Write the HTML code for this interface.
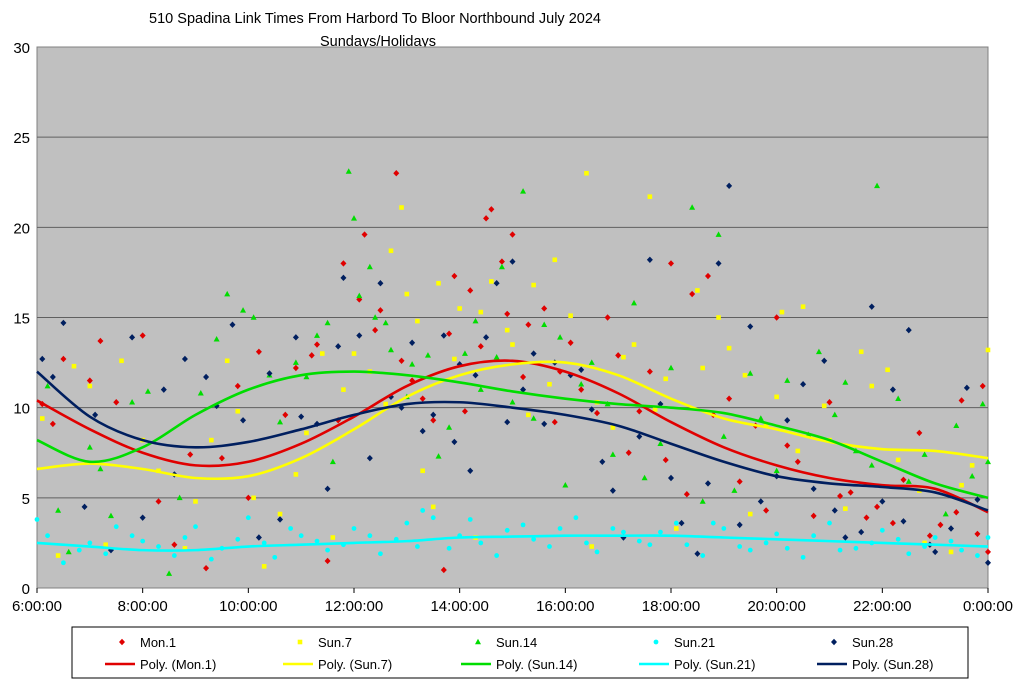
<!DOCTYPE html>
<html><head><meta charset="utf-8"><style>
body{margin:0;background:#fff;width:1024px;height:688px;overflow:hidden;font-family:"Liberation Sans",sans-serif}
</style></head><body>
<svg id="chart" width="1024" height="688" font-family="Liberation Sans, sans-serif">
<text x="375" y="23" text-anchor="middle" font-size="14.5">510 Spadina Link Times From Harbord To Bloor Northbound July 2024</text>
<text x="378" y="46" text-anchor="middle" font-size="14.5">Sundays/Holidays</text>
<rect x="37" y="47" width="951" height="541" fill="#c0c0c0" stroke="#808080"/>
<g id="grid"></g><g id="ticks"></g><g id="points"></g><g id="trends"></g>
<g id="legend">
<rect x="72" y="627" width="896" height="51" fill="#fff" stroke="#000"/>
</g>
</svg>
<script>
const yTicks=[0,5,10,15,20,25,30];
const xTickHours=[6,8,10,12,14,16,18,20,22,24];
const xTickLabels=["6:00:00","8:00:00","10:00:00","12:00:00","14:00:00","16:00:00","18:00:00","20:00:00","22:00:00","0:00:00"];
const seriesNames=["Mon.1","Sun.7","Sun.14","Sun.21","Sun.28"];
const seriesColors=["#e00000","#ffff00","#00dd00","#00ffff","#001f5f"];
const trendHours=[6,7,8,9,10,11,12,13,14,15,16,17,18,19,20,21,22,23,24];
const trendMon1=[10.4,8.8,7.5,6.8,7.0,8.0,9.5,11.2,12.3,12.6,12.0,10.8,9.2,7.8,6.8,6.1,5.7,5.5,4.2];
const trendSun7=[6.6,6.9,6.6,6.1,6.2,7.2,8.8,10.6,11.8,12.4,12.5,11.8,10.5,9.4,8.8,8.1,7.7,7.6,7.2];
const trendSun14=[8.2,7.0,7.8,9.6,11.0,11.8,12.0,11.8,11.4,10.9,10.5,10.2,10.0,9.7,9.0,8.2,7.0,5.8,5.0];
const trendSun21=[2.5,2.3,2.1,2.1,2.3,2.4,2.5,2.6,2.8,2.85,2.9,2.9,2.9,2.8,2.7,2.6,2.5,2.4,2.3];
const trendSun28=[12.0,9.5,8.2,7.8,8.1,8.8,9.6,10.2,10.3,10.0,9.6,9.0,8.0,7.0,6.2,5.8,5.6,5.3,4.3];
const ptsMon1=[[6.1,10.2],[6.5,12.7],[7.2,13.7],[7.5,10.3],[8,14],[8.3,4.8],[8.9,7.4],[9.2,1.1],[9.8,11.2],[10.2,13.1],[10.7,9.6],[11.2,12.9],[11.5,1.5],[11.8,18],[12.1,16],[12.2,19.6],[12.5,15.4],[12.8,23],[13.1,11.5],[13.5,9.3],[13.7,1],[13.9,17.3],[14.2,16.5],[14.5,20.5],[14.6,21],[14.8,18.1],[15.0,19.6],[15.3,14.6],[15.6,15.5],[15.9,12],[16.3,11],[16.8,15],[17.2,7.5],[17.6,12],[18.0,18],[18.4,16.3],[18.7,17.3],[19.1,10.5],[19.6,9],[20.0,15],[20.4,7],[21.0,10.3],[21.4,5.3],[21.9,4.5],[22.4,6],[22.7,8.6],[23.1,3.5],[23.5,10.4],[23.9,11.2],[24,2],
[6.3,9.1],[7.0,11.5],[8.6,2.4],[9.5,7.2],[10.0,5],[10.9,12.2],[11.3,13.5],[11.7,9.3],[12.4,14.3],[12.9,12.6],[13.3,10.5],[13.8,14.1],[14.1,9.8],[14.4,13.4],[14.9,15.2],[15.2,11.7],[15.8,9.2],[16.1,13.6],[16.6,9.7],[17.0,12.9],[17.4,9.8],[17.9,7.1],[18.3,5.2],[18.8,9.6],[19.3,5.9],[19.8,4.3],[20.2,7.9],[20.7,4],[21.2,5.1],[21.7,3.9],[22.2,3.6],[22.9,2.9],[23.4,4.2],[23.8,3]];
const ptsSun7=[[6.1,9.4],[6.7,12.3],[7.0,11.2],[7.6,12.6],[8.3,6.5],[8.8,2.2],[9.3,8.2],[9.8,9.8],[10.3,1.2],[10.9,6.3],[11.4,13],[11.8,11],[12.3,12],[12.7,18.7],[12.9,21.1],[13.0,16.3],[13.3,6.5],[13.6,16.9],[14.0,15.5],[14.3,2.8],[14.6,17],[15.0,13.5],[15.4,16.8],[15.8,18.2],[16.4,23],[16.6,10.3],[17.1,12.8],[17.6,21.7],[17.9,11.6],[18.5,16.5],[18.9,15],[19.4,11.8],[19.8,9],[20.1,15.3],[20.5,15.6],[21.0,8.2],[21.6,13.1],[22.1,12.1],[22.7,5.4],[23.3,2],[23.7,6.8],[24,13.2],
[6.4,1.8],[7.3,2.4],[8.0,8.2],[9.0,4.8],[9.6,12.6],[10.1,5],[10.6,4.1],[11.1,8.6],[11.6,2.8],[12.0,13],[12.6,10.2],[13.2,14.8],[13.5,4.5],[13.9,12.7],[14.4,15.3],[14.9,14.3],[15.3,9.6],[15.7,11.3],[16.1,15.1],[16.5,2.3],[16.9,8.9],[17.3,13.5],[17.7,9.9],[18.1,3.3],[18.6,12.2],[19.1,13.3],[19.5,4.1],[20.0,10.6],[20.4,7.6],[20.9,10.1],[21.3,4.4],[21.8,11.2],[22.3,7.1],[22.8,2.5],[23.5,5.7]];
const ptsSun14=[[6.2,11.2],[6.6,2],[7.0,7.8],[7.4,4],[7.8,10.3],[8.5,0.8],[8.7,5],[9.1,10.8],[9.6,16.3],[9.9,15.4],[10.4,11.8],[10.9,12.5],[11.3,14],[11.6,7],[11.9,23.1],[12.1,16.2],[12.4,15],[12.7,13.2],[13.1,12.4],[13.6,7.3],[14.1,13],[14.4,11],[14.8,17.8],[15.2,22],[15.6,14.6],[16.0,5.7],[16.5,12.5],[16.9,7.4],[17.3,15.8],[17.8,8],[18.4,21.1],[18.9,19.6],[19.2,5.4],[19.7,9.4],[20.2,11.5],[20.6,8.5],[21.1,9.6],[21.5,7.6],[21.9,22.3],[22.3,10.5],[22.8,7.4],[23.4,9],[23.9,10.2],[24,7],
[6.4,4.3],[7.2,6.6],[8.1,10.9],[9.4,13.8],[10.1,15],[10.6,9.2],[11.1,11.7],[11.5,14.7],[12.0,20.5],[12.3,17.8],[12.6,14.7],[13.0,10.6],[13.4,12.9],[13.8,8.9],[14.3,14.8],[14.7,12.8],[15.0,10.3],[15.4,9.4],[15.9,13.9],[16.3,11.3],[16.8,10.2],[17.5,6.1],[18.0,12.2],[18.6,4.8],[19.0,8.4],[19.5,11.9],[20.0,6.5],[20.8,13.1],[21.3,11.4],[21.8,6.8],[22.5,5.9],[23.2,4.1],[23.7,6.2]];
const ptsSun21=[[6.0,3.8],[6.5,1.4],[7.0,2.5],[7.5,3.4],[8.0,2.6],[8.6,1.8],[9.0,3.4],[9.5,2.2],[10.0,3.9],[10.5,1.7],[11.0,2.9],[11.5,2.1],[12.0,3.3],[12.5,1.9],[13.0,3.6],[13.3,4.3],[13.8,2.2],[14.2,3.8],[14.7,1.8],[15.2,3.5],[15.7,2.3],[16.2,3.9],[16.6,2],[17.1,3.1],[17.6,2.4],[18.1,3.6],[18.6,1.8],[19.0,3.3],[19.5,2.1],[20.0,3],[20.5,1.7],[21.0,3.6],[21.5,2.2],[22.0,3.2],[22.5,1.9],[23.0,2.8],[23.5,2.1],[24,2.8],
[6.2,2.9],[6.8,2.1],[7.3,1.9],[7.8,2.9],[8.3,2.3],[8.8,2.8],[9.3,1.6],[9.8,2.7],[10.3,2.5],[10.8,3.3],[11.3,2.6],[11.8,2.4],[12.3,2.9],[12.8,2.7],[13.2,2.3],[13.5,3.9],[14.0,2.9],[14.4,2.5],[14.9,3.2],[15.4,2.7],[15.9,3.3],[16.4,2.5],[16.9,3.3],[17.4,2.6],[17.8,3.1],[18.3,2.4],[18.8,3.6],[19.3,2.3],[19.8,2.5],[20.2,2.2],[20.7,2.9],[21.2,2.1],[21.8,2.5],[22.3,2.7],[22.8,2.3],[23.3,2.6],[23.8,1.8]];
const ptsSun28=[[6.1,12.7],[6.5,14.7],[6.9,4.5],[7.4,2.1],[7.8,13.9],[8.4,11],[8.8,12.7],[9.2,11.7],[9.7,14.6],[10.2,2.8],[10.6,3.8],[11.0,9.5],[11.5,5.5],[11.8,17.2],[12.1,14],[12.5,16.9],[12.9,10],[13.3,8.7],[13.7,14],[14.0,12.4],[14.3,11.8],[14.7,16.9],[15.0,18.1],[15.4,13],[15.8,12.5],[16.3,12.1],[16.7,7],[17.1,2.8],[17.6,18.2],[18.0,6.1],[18.5,1.9],[18.9,18],[19.1,22.3],[19.5,14.5],[20.0,6.2],[20.5,11.3],[20.9,12.6],[21.3,2.8],[21.8,15.6],[22.2,11],[22.5,14.3],[23.0,2],[23.6,11.1],[24,1.4],
[6.3,11.7],[7.1,9.6],[8.0,3.9],[8.6,6.3],[9.4,10.1],[9.9,9.3],[10.4,11.9],[10.9,13.9],[11.3,9.1],[11.7,13.4],[12.3,7.2],[12.7,10.6],[13.1,13.6],[13.5,9.6],[13.9,8.1],[14.2,6.5],[14.5,13.9],[14.9,9.2],[15.2,11],[15.6,9.1],[16.1,11.8],[16.5,9.9],[16.9,5.4],[17.4,8.4],[17.8,10.2],[18.2,3.6],[18.7,5.8],[19.3,3.5],[19.7,4.8],[20.2,9.3],[20.7,5.5],[21.1,4.3],[21.6,3.1],[22.0,4.8],[22.4,3.7],[22.9,2.4],[23.3,3.3],[23.8,4.9]];
const X0=37,X1=988,Y0=588,Y1=47;
const xs=h=>X0+(h-6)/18*(X1-X0);
const ys=v=>Y0-v/30*(Y0-Y1);
const NS="http://www.w3.org/2000/svg";
function mk(t,a,p){const e=document.createElementNS(NS,t);for(const k in a)e.setAttribute(k,a[k]);p.appendChild(e);return e;}
const grid=document.getElementById('grid'),ticks=document.getElementById('ticks');
yTicks.forEach(v=>{
 if(v>0&&v<30){const l=mk('line',{x1:X0,x2:X1,y1:ys(v),y2:ys(v),stroke:'#606060','stroke-width':1},grid);
 
 }
 const t=mk('text',{x:30,y:ys(v)+6,'text-anchor':'end','font-size':15},ticks);t.textContent=v;
 
 
});
xTickHours.forEach((h,i)=>{
 mk('line',{x1:xs(h),x2:xs(h),y1:Y0,y2:Y0+5,stroke:'#000'},ticks);
 const t=mk('text',{x:xs(h),y:Y0+23,'text-anchor':'middle','font-size':15},ticks);t.textContent=xTickLabels[i];
 
 
});
function marker(k,x,y,p){const c=seriesColors[k];let e;
 if(k===0||k===4)e=mk('polygon',{points:`${x},${y-3.2} ${x+3},${y} ${x},${y+3.2} ${x-3},${y}`,fill:c},p);
 else if(k===1)e=mk('rect',{x:x-2.3,y:y-2.3,width:4.6,height:4.6,fill:c},p);
 else if(k===2)e=mk('polygon',{points:`${x},${y-3.2} ${x+3},${y+2.3} ${x-3},${y+2.3}`,fill:c},p);
 else e=mk('circle',{cx:x,cy:y,r:2.4,fill:c},p);
 return e;}
const allPts=[ptsMon1,ptsSun7,ptsSun14,ptsSun21,ptsSun28];
const pg=document.getElementById('points');
allPts.forEach((arr,k)=>arr.forEach(p=>{const e=marker(k,xs(p[0]),ys(p[1]),pg);
 
 }));
function smooth(arr){const P=arr.map((v,i)=>[xs(trendHours[i]),ys(v)]);let d=`M${P[0][0]},${P[0][1]}`;
 for(let i=0;i<P.length-1;i++){const p0=P[Math.max(i-1,0)],p1=P[i],p2=P[i+1],p3=P[Math.min(i+2,P.length-1)];
 d+=` C${p1[0]+(p2[0]-p0[0])/6},${p1[1]+(p2[1]-p0[1])/6} ${p2[0]-(p3[0]-p1[0])/6},${p2[1]-(p3[1]-p1[1])/6} ${p2[0]},${p2[1]}`;}return d;}
const trends=[trendMon1,trendSun7,trendSun14,trendSun21,trendSun28];
const tg=document.getElementById('trends');
trends.forEach((arr,k)=>{const e=mk('path',{d:smooth(arr),fill:'none',stroke:seriesColors[k],'stroke-width':2.6},tg);
 
 });
const lg=document.getElementById('legend');
const lx=[105,283,461,639,817];
seriesNames.forEach((n,k)=>{
 const m=marker(k,lx[k]+17,642,lg);
 
 
 const t=mk('text',{x:lx[k]+35,y:647,'font-size':13},lg);t.textContent=n;
 
 
 const l=mk('line',{x1:lx[k],x2:lx[k]+30,y1:664,y2:664,stroke:seriesColors[k],'stroke-width':2.6},lg);
 
 
 const t2=mk('text',{x:lx[k]+35,y:669,'font-size':13},lg);t2.textContent='Poly. ('+n+')';
 
 
});
</script>
</body></html>
